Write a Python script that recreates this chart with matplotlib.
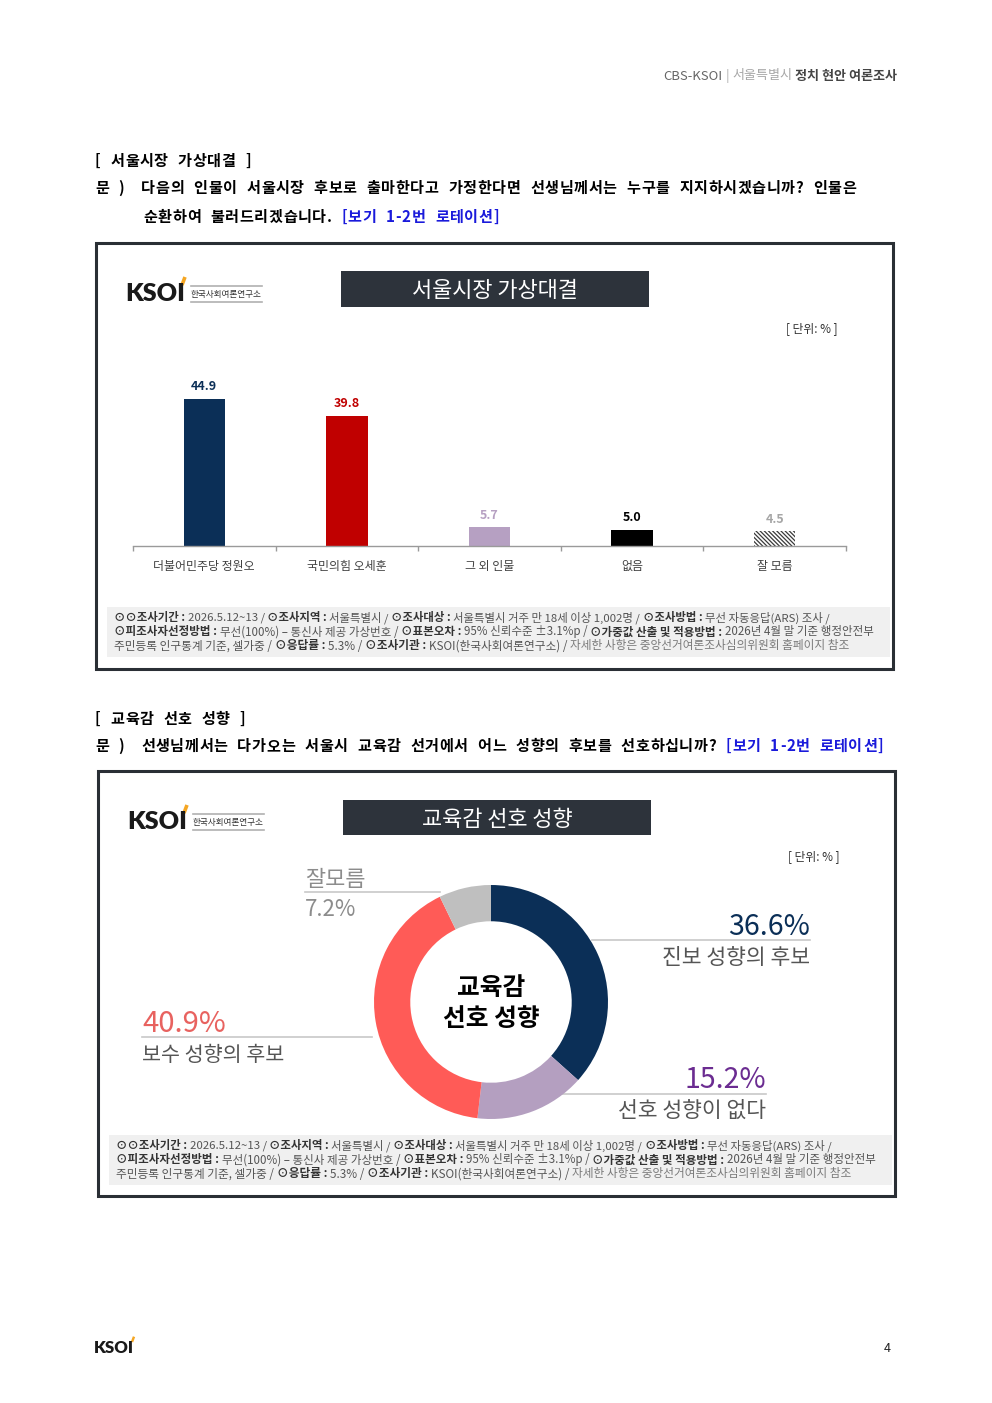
import matplotlib
matplotlib.use('Agg')
import matplotlib.pyplot as plt
import numpy as np

plt.rcParams['font.family'] = ['Noto Sans CJK KR', 'DejaVu Sans']
plt.rcParams['hatch.linewidth'] = 0.9

# ---------------- data ----------------
header_left = 'CBS-KSOI'
header_mid = '서울특별시'
header_right = '정치 현안 여론조사'

q1_title = '[ 서울시장 가상대결 ]'
q1_line1 = '다음의 인물이 서울시장 후보로 출마한다고 가정한다면 선생님께서는 누구를 지지하시겠습니까? 인물은'
q1_line2 = '순환하여 불러드리겠습니다.'
q_rotation = '[보기 1-2번 로테이션]'
chart1_title = '서울시장 가상대결'

q2_title = '[ 교육감 선호 성향 ]'
q2_line1 = '선생님께서는 다가오는 서울시 교육감 선거에서 어느 성향의 후보를 선호하십니까?'
chart2_title = '교육감 선호 성향'
donut_center = ['교육감', '선호 성향']

bar_categories = ['더불어민주당 정원오', '국민의힘 오세훈', '그 외 인물', '없음', '잘 모름']
bar_values = [44.9, 39.8, 5.7, 5.0, 4.5]
bar_colors = ['#0b2f57', '#c00000', '#b6a0c2', '#000000', '#ffffff']
bar_label_colors = ['#0b2f57', '#c00000', '#b6a0c2', '#000000', '#a6a6a6']

donut_labels = ['진보 성향의 후보', '선호 성향이 없다', '보수 성향의 후보', '잘모름']
donut_values = [36.6, 15.2, 40.9, 7.2]
donut_colors = ['#0b2f57', '#b49fc0', '#ff5b57', '#bfbfbf']
donut_pct_colors = ['#0b2f57', '#6b2c91', '#e8625f', '#8c8c8c']

unit_label = '[ 단위: % ]'
logo_sub = '한국사회여론연구소'

B, R, L = 'bold', 'normal', 'light'
foot_lines = [
    [('⊙⊙조사기간 :', B), (' 2026.5.12~13 / ', R), ('⊙조사지역 :', B), (' 서울특별시 / ', R),
     ('⊙조사대상 :', B), (' 서울특별시 거주 만 18세 이상 1,002명 / ', R), ('⊙조사방법 :', B),
     (' 무선 자동응답(ARS) 조사 /', R)],
    [('⊙피조사자선정방법 :', B), (' 무선(100%) – 통신사 제공 가상번호 / ', R), ('⊙표본오차 :', B),
     (' 95% 신뢰수준 ±3.1%p / ', R), ('⊙가중값 산출 및 적용방법 :', B), (' 2026년 4월 말 기준 행정안전부', R)],
    [('주민등록 인구통계 기준, 셀가중 / ', R), ('⊙응답률 :', B), (' 5.3% / ', R), ('⊙조사기관 :', B),
     (' KSOI(한국사회여론연구소) / ', R), ('자세한 사항은 중앙선거여론조사심의위원회 홈페이지 참조', L)],
]
foot_widths = [718, 758, 737]

# ---------------- figure ----------------
W, H = 992, 1403
fig = plt.figure(figsize=(W / 100, H / 100), dpi=100)
page = fig.add_axes([0, 0, 1, 1])
page.set_xlim(0, W)
page.set_ylim(H, 0)
page.axis('off')
renderer = fig.canvas.get_renderer()

_wcache = {}


def text_w(s, size, weight='normal', family=None):
    key = (s, size, weight, str(family))
    if key in _wcache:
        return _wcache[key]
    kw = {}
    if family:
        kw['family'] = family
    t = page.text(0, 0, s, fontsize=size, fontweight=weight, **kw)
    bb = t.get_window_extent(renderer)
    t.remove()
    _wcache[key] = bb.width
    return bb.width


def adv(s, size, weight='normal', family=None):
    return text_w('|' + s + '|', size, weight, family) - text_w('||', size, weight, family)


def draw_runs(x, y, runs, size, fit=None, ha='left', va='center', family=None):
    # runs: list of (text, color, weight)
    if fit is not None:
        tot = sum(adv(t, size, w, family) for t, c, w in runs)
        size = size * fit / tot
    tot = sum(adv(t, size, w, family) for t, c, w in runs)
    if ha == 'right':
        x = x - tot
    elif ha == 'center':
        x = x - tot / 2
    kw = {}
    if family:
        kw['family'] = family
    for t, c, w in runs:
        lead = len(t) - len(t.lstrip(' '))
        core = t.strip(' ')
        if core:
            off = adv(t[:lead], size, w, family) if lead else 0
            page.text(x + off, y, core, fontsize=size, color=c, fontweight=w,
                      ha='left', va=va, **kw)
        x += adv(t, size, w, family)
    return size


SP_EXTRA = 5.0


def char_step(ch, size, track):
    step = adv(ch, size, 'bold') + track
    if ch == ' ':
        step += SP_EXTRA
    return step


def draw_tracked(x, y, runs, size, track):
    # character-by-character drawing with extra letter spacing (px); runs: (text, color)
    for t, c in runs:
        for ch in t:
            if ch != ' ':
                page.text(x, y, ch, fontsize=size, color=c, fontweight='bold',
                          ha='left', va='center')
            x += char_step(ch, size, track)
    return x


def rect(x0, y0, x1, y1, **kw):
    page.add_patch(plt.Rectangle((x0, y0), x1 - x0, y1 - y0, **kw))


def logo(x0, x1, yc, sub=True):
    draw_runs(x0, yc, [('KSOI', '#1a1a1a', 'heavy')], 18, fit=x1 - x0,
              family=['Lato', 'DejaVu Sans'])
    h = (x1 - x0) / 60.0
    page.plot([x1 - 3 * h, x1], [yc - 9 * h, yc - 17 * h], color='#f5a623', lw=2.6 * h,
              solid_capstyle='butt')
    if sub:
        page.plot([x1 + 6, x1 + 77], [yc - 8, yc - 8], color='#b0b0b0', lw=1.2)
        page.plot([x1 + 6, x1 + 77], [yc + 8, yc + 8], color='#b0b0b0', lw=1.2)
        draw_runs(x1 + 6, yc, [(logo_sub, '#333333', 'normal')], 6, fit=71)


# header
draw_runs(897, 76, [(header_left, '#666666', 'normal'), (' | ', '#b0b0b0', 'normal'),
                    (header_mid + ' ', '#a8a8a8', 'normal'), (header_right, '#444444', 'bold')],
          8.5, fit=234, ha='right')

# ---------------- questions ----------------
qsize = 10.9
nat = sum(char_step(ch, qsize, 0.0) for ch in q1_line1) - adv(q1_line1[-1], qsize, 'bold')
nat += adv(q1_line1[-1], qsize, 'bold')
qtrack = (715 - nat) / (len(q1_line1) - 1)
BLK, BLU = '#000000', '#1a1adb'

draw_tracked(95, 161, [(q1_title, BLK)], qsize, qtrack)
draw_tracked(95, 188, [('문 )', BLK)], qsize, qtrack)
draw_tracked(141, 188, [(q1_line1, BLK)], qsize, qtrack)
draw_tracked(143, 217, [(q1_line2 + ' ', BLK), (q_rotation, BLU)], qsize, qtrack)

draw_tracked(95, 719, [(q2_title, BLK)], qsize, qtrack)
draw_tracked(95, 746, [('문 )', BLK)], qsize, qtrack)
draw_tracked(141, 746, [(q2_line1 + ' ', BLK), (q_rotation, BLU)], qsize, qtrack)

# ---------------- boxes ----------------
for (bx0, by0, bx1, by1), (tx0, ty0, tx1, ty1), ttl, fy in [
        ((96, 243, 893, 669), (341, 271, 649, 307), chart1_title, 607),
        ((98, 771, 895, 1196), (343, 800, 651, 835), chart2_title, 1135)]:
    rect(bx0, by0, bx1, by1, facecolor='white', edgecolor='#2a2f35', lw=2.2, zorder=0)
    rect(tx0, ty0, tx1, ty1, facecolor='#2d333b', edgecolor='none')
    page.text((tx0 + tx1) / 2, (ty0 + ty1) / 2 + 2, ttl, color='white', fontsize=15.8,
              ha='center', va='center')
    logo(bx0 + 29, bx0 + 89, by0 + 51)
    page.text(bx1 - 55, by0 + 86, unit_label, fontsize=8.5, color='#333333',
              ha='right', va='center')
    # footnote
    rect(bx0 + 11, fy, bx1 - 3, fy + 50, facecolor='#f0f0f0', edgecolor='none')
    for k, (runs, fw) in enumerate(zip(foot_lines, foot_widths)):
        cr = []
        for t, w in runs:
            if w == 'light':
                cr.append((t, '#7a7a7a', 'normal'))
            elif w == 'bold':
                cr.append((t, '#333333', 'bold'))
            else:
                cr.append((t, '#555555', 'normal'))
        draw_runs(bx0 + 18, fy + 11 + 14 * k, cr, 8, fit=fw)

# ---------------- bar chart ----------------
px_per_unit = 147 / 44.9
ax = fig.add_axes([133 / W, (H - 546) / H, (846 - 133) / W, 176 / H])
ax.set_xlim(-0.5, 4.5)
ax.set_ylim(0, 176 / px_per_unit)
xs = np.arange(len(bar_values))
bars = ax.bar(xs, bar_values, width=0.29, color=bar_colors, linewidth=0)
bars[4].set_hatch('\\' * 8)
bars[4].set_edgecolor('#3a3a3a')
bars[4].set_linewidth(0)
for x, v, c in zip(xs, bar_values, bar_label_colors):
    ax.annotate(f'{v:.1f}', (x, v), xytext=(0, 4), textcoords='offset points',
                ha='center', va='bottom', fontsize=9, fontweight='bold', color=c)
for s in ['top', 'right', 'left']:
    ax.spines[s].set_visible(False)
ax.spines['bottom'].set_color('#9a9a9a')
ax.spines['bottom'].set_linewidth(1)
ax.set_yticks([])
ax.set_xticks(xs)
ax.set_xticklabels(bar_categories, fontsize=8.6, color='#404040')
ax.tick_params(axis='x', which='major', length=0, pad=10)
ax.set_xticks(np.arange(-0.5, 5, 1), minor=True)
ax.tick_params(axis='x', which='minor', length=3.5, color='#9a9a9a', width=1)
ax.patch.set_alpha(0)

# ---------------- donut ----------------
cx, cy, rad = 491, 1002, 117
ax2 = fig.add_axes([(cx - rad) / W, (H - cy - rad) / H, 2 * rad / W, 2 * rad / H])
ax2.pie(donut_values, colors=donut_colors, startangle=90, counterclock=False, radius=1,
        wedgeprops=dict(width=0.31, linewidth=0))
ax2.set_xlim(-1, 1)
ax2.set_ylim(-1, 1)
ax2.set_aspect('equal')
ax2.axis('off')
page.text(cx, 988, donut_center[0], fontsize=17.8, fontweight='bold', ha='center', va='center')
page.text(cx, 1019, donut_center[1], fontsize=17.8, fontweight='bold', ha='center', va='center')

line_c = '#c8c8c8'
GRY = '#555555'
# 진보
page.plot([592, 810], [940, 940], color=line_c, lw=1.2)
page.text(810, 927, f'{donut_values[0]}%', fontsize=20.5, color=donut_pct_colors[0], ha='right', va='center')
draw_runs(810, 958, [(donut_labels[0], GRY, 'normal')], 15, fit=148, ha='right')
# 없다
page.plot([556, 766], [1094, 1094], color=line_c, lw=1.2)
page.text(766, 1080, f'{donut_values[1]}%', fontsize=20.5, color=donut_pct_colors[1], ha='right', va='center')
draw_runs(766, 1111, [(donut_labels[1], GRY, 'normal')], 15, fit=148, ha='right')
# 보수
page.plot([142, 372], [1037, 1037], color=line_c, lw=1.2)
page.text(142, 1024, f'{donut_values[2]}%', fontsize=21, color=donut_pct_colors[2], ha='left', va='center')
draw_runs(142, 1055, [(donut_labels[2], GRY, 'normal')], 15, fit=142)
# 잘모름
page.plot([305, 440], [892, 892], color=line_c, lw=1.2)
page.text(305, 880, donut_labels[3], fontsize=15.8, color='#8c8c8c', ha='left', va='center')
page.text(305, 909, f'{donut_values[3]}%', fontsize=16, color='#8c8c8c', ha='left', va='center')

# ---------------- footer ----------------
logo(94, 134, 1348, sub=False)
page.text(887, 1348, '4', fontsize=9, color='#222222', ha='center', va='center')

fig.savefig('out.png', dpi=100)
